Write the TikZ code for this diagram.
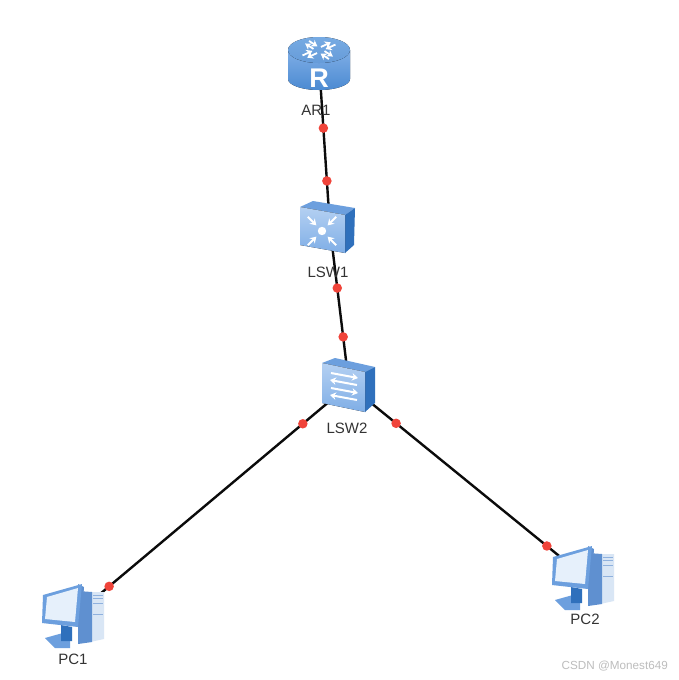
\documentclass[tikz,border=0pt]{standalone}
\usepackage{fontspec}
\setmainfont{Liberation Sans}
\usepackage{xcolor}
\usetikzlibrary{arrows.meta, positioning, calc}
\definecolor{inkOne}{HTML}{0B0B0B}
\definecolor{inkTwo}{HTML}{333333}
\definecolor{markc}{HTML}{BDBDBD}
\definecolor{portc}{HTML}{F0443A}
\definecolor{blueTop}{HTML}{77ABE3}
\definecolor{blueBody}{HTML}{4B8AD2}
\definecolor{blueLow}{HTML}{7FAEE6}
\definecolor{blueFace}{HTML}{B4D0F2}
\definecolor{blueEdge}{HTML}{6C9FDE}
\definecolor{blueSide}{HTML}{2F70BC}
\definecolor{pcDark}{HTML}{5F90D0}
\definecolor{pcScreen}{HTML}{E6F0FB}
\definecolor{pcLight}{HTML}{D9E6F5}
\tikzset{
  device/.style={inner sep=0pt, minimum size=0pt},
  devlabel/.style={inner sep=0pt, text=inkTwo, font=\fontsize{15}{17}\selectfont},
  link/.style={draw=inkOne, line width=2.4pt},
  port/.style={circle, fill=portc, inner sep=0pt, minimum size=9.5pt},
  marker/.style={draw=white, line width=2pt, -{Stealth[length=6pt, width=7.5pt]}},
  routericon/.pic={
    \fill[top color=blueLow, bottom color=blueBody] (-31,-12) -- (-31,17) arc[start angle=180, end angle=0, x radius=31, y radius=11] -- (31,-12) -- cycle;
    \fill[top color=blueTop, bottom color=blueBody!85!white] (0,-12) ellipse[x radius=31, y radius=13];
    % arrows on the lid
    \foreach \a in {40,130,220,310} {
      \begin{scope}[shift={(0,-12)}, yscale=0.55, rotate=\a]
        \draw[marker, line width=1.8pt] (5,-3) -- (18,-3);
        \draw[marker, line width=1.8pt] (19,3) -- (6,3);
      \end{scope}
    }
    \node[text=white, inner sep=0pt, font=\bfseries\fontsize{27}{29}\selectfont] (-letter) at (0,16) {R};
  },
  coreicon/.pic={
    \fill[blueEdge] (-30,-21) -- (-17,-27) -- (25,-20) -- (15,-13) -- cycle;
    \fill[blueSide] (15,-13) -- (25,-20) -- (24,17) -- (15,25) -- cycle;
    \fill[top color=blueFace, bottom color=blueLow] (-30,-21) -- (15,-13) -- (15,25) -- (-30,17) -- cycle;
    % arrows towards the middle
    \begin{scope}[shift={(-8,3)}]
      \fill[white] (0,0) circle[radius=4.2];
      \foreach \a in {45,135,225,315} {
        \draw[marker] (\a:20) -- (\a:8);
      }
    \end{scope}
  },
  accessicon/.pic={
    \fill[blueEdge] (-27,-25) -- (-14,-30) -- (26,-21) -- (16,-16) -- cycle;
    \fill[blueSide] (16,-16) -- (26,-21) -- (26,15) -- (16,24) -- cycle;
    \fill[top color=blueFace, bottom color=blueLow] (-27,-25) -- (16,-16) -- (16,24) -- (-27,15) -- cycle;
    % four arrows across the front
    \draw[marker] (-18,-15) -- (9,-10);
    \draw[marker] (8,-3) -- (-19,-8);
    \draw[marker] (-18,0) -- (9,5);
    \draw[marker] (8,12) -- (-19,7);
  },
  pcicon/.pic={
    % tower
    \fill[pcLight] (15,-23) -- (29,-23) -- (29,24) -- (15,27) -- cycle;
    \fill[pcDark] (3,-24) -- (17,-23) -- (17,27) -- (3,29) -- cycle;
    \foreach \y in {-20,-17,-12,-1} { \draw[pcDark!70!white, line width=1pt] (18,\y) -- (28,\y); }
    % stand
    \fill[blueEdge] (-30,23) -- (-5,16) -- (-5,33) -- (-20,33) -- cycle;
    \fill[blueSide] (-14,10) -- (-3,12) -- (-3,26) -- (-14,26) -- cycle;
    % monitor
    \fill[pcDark] (3,-31) -- (9,-28) -- (6,14) -- (3,12) -- cycle;
    \fill[blueEdge] (-32,-20) -- (7,-31) -- (3,12) -- (-33,8) -- cycle;
    \fill[pcScreen] (-28,-18) -- (3,-27) -- (0,7) -- (-30,4) -- cycle;
  },
}
\begin{document}
\begin{tikzpicture}[x=1pt, y=-1pt]
  \useasboundingbox (0,0) rectangle (679,680);
  \fill[white] (0,0) rectangle (679,680);
  \node[device] (ar1) at (319,62) {};
  \node[device] (lsw1) at (330,228) {};
  \node[device] (lsw2) at (349,385) {};
  \node[device] (pc1) at (75,615) {};
  \node[device] (pc2) at (585,577) {};
  % links with their two ports
  \draw[link] (ar1) -- node[port, pos=0.398] (p1) {} node[port, pos=0.717] (p2) {} (lsw1);
  \draw[link] (lsw1) -- node[port, pos=0.382] (p3) {} node[port, pos=0.694] (p4) {} (lsw2);
  \draw[link] (lsw2) -- node[port, pos=0.168] (p5) {} node[port, pos=0.876] (p6) {} (pc1);
  \draw[link] (lsw2) -- node[port, pos=0.199] (p7) {} node[port, pos=0.839] (p8) {} (pc2);
  % icons
  \pic (icon1) at (ar1) {routericon};
  \pic at (lsw1) {coreicon};
  \pic at ($(lsw2)+(0,3)$) {accessicon};
  \pic at (pc1) {pcicon};
  \pic at (pc2) {pcicon};
  % names
  \node[devlabel] (ar1name) at (316,110.5) {AR1};
  \node[devlabel] (lsw1name) at (328,272) {LSW1};
  \node[devlabel] (lsw2name) at (347,428) {LSW2};
  \node[devlabel] (pc1name) at (73,659) {PC1};
  \node[devlabel] (pc2name) at (585,619) {PC2};
  \node[inner sep=0pt, anchor=east, text=markc, font=\fontsize{11.7}{14}\selectfont] (mark) at (668,666) {CSDN @Monest649};
\end{tikzpicture}
\end{document}
